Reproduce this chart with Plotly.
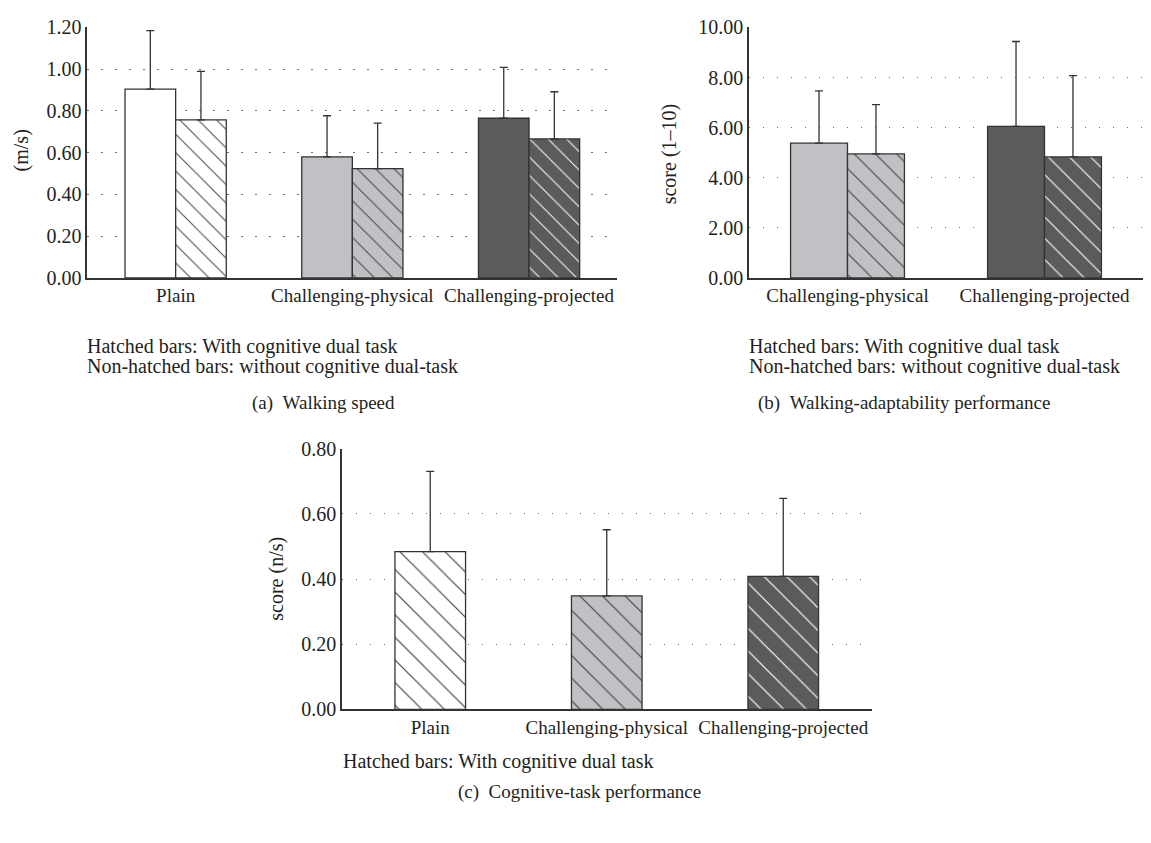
import plotly.graph_objects as go

# ---------------- data ----------------
cats_a = ["Plain", "Challenging-physical", "Challenging-projected"]
speed_single = [0.905, 0.580, 0.765]
speed_single_err = [0.280, 0.197, 0.244]
speed_dual = [0.757, 0.524, 0.666]
speed_dual_err = [0.233, 0.218, 0.226]

cats_b = ["Challenging-physical", "Challenging-projected"]
adapt_single = [5.38, 6.05]
adapt_single_err = [2.09, 3.39]
adapt_dual = [4.95, 4.83]
adapt_dual_err = [1.97, 3.25]

cats_c = ["Plain", "Challenging-physical", "Challenging-projected"]
cog_dual = [0.484, 0.348, 0.408]
cog_dual_err = [0.246, 0.203, 0.239]

ticks_a = [0.0, 0.2, 0.4, 0.6, 0.8, 1.0, 1.2]
ticks_b = [0.0, 2.0, 4.0, 6.0, 8.0, 10.0]
ticks_c = [0.0, 0.2, 0.4, 0.6, 0.8]

# ---------------- styles ----------------
WHITE, LIGHT, DARK = "#ffffff", "#c0c1c4", "#5b5b5d"
cols_a = [WHITE, LIGHT, DARK]
cols_b = [LIGHT, DARK]
cols_c = [WHITE, LIGHT, DARK]
LINE = "#333333"
TXT = "#231f20"
FONT = "Liberation Serif"
W, H = 1151, 843
PAD = 8                      # default body margin of the html page
FW, FH = W - 2 * PAD, H - 2 * PAD


def bar(x, y, err, colors, hatched, xa, ya, width, offset, psize):
    marker = dict(color=colors, line=dict(color=LINE, width=1.3))
    if hatched:
        marker["pattern"] = dict(shape="\\", fillmode="overlay", fgcolor="#2b2b2b",
                                 fgopacity=1, size=psize, solidity=0.075)
    return go.Bar(x=x, y=y, width=width, offset=offset, marker=marker,
                  xaxis=xa, yaxis=ya, showlegend=False, hoverinfo="skip",
                  error_y=dict(type="data", array=err, arrayminus=[0] * len(err),
                               symmetric=False, color=LINE, thickness=1.3, width=4))


fig = go.Figure()
wa = 0.2865
fig.add_trace(bar(cats_a, speed_single, speed_single_err, cols_a, False, "x", "y", wa, -wa, 13))
fig.add_trace(bar(cats_a, speed_dual, speed_dual_err, cols_a, True, "x", "y", wa, 0, 13))
wb = 0.289
fig.add_trace(bar(cats_b, adapt_single, adapt_single_err, cols_b, False, "x2", "y2", wb, -wb, 15))
fig.add_trace(bar(cats_b, adapt_dual, adapt_dual_err, cols_b, True, "x2", "y2", wb, 0, 15))
wc = 0.40
fig.add_trace(bar(cats_c, cog_dual, cog_dual_err, cols_c, True, "x3", "y3", wc, -wc / 2, 16))


def px_x(v):
    return min(max((v - PAD) / FW, 0), 1)


def px_y(v):
    return min(max(1 - (v - PAD) / FH, 0), 1)


xcommon = dict(type="category", showline=True, linecolor=LINE, linewidth=1.5,
               showgrid=False, ticks="", tickangle=0,
               tickfont=dict(family=FONT, size=19, color=TXT), fixedrange=True)
ycommon = dict(showline=True, linecolor=LINE, linewidth=1.5, showgrid=True,
               gridcolor="#6d6d6d", gridwidth=1.4, griddash="1.4px,12.6px",
               zeroline=False, ticks="", tickformat=".2f",
               tickfont=dict(family=FONT, size=20, color=TXT), fixedrange=True)

fig.update_layout(
    width=FW, height=FH,
    margin=dict(l=0, r=0, t=0, b=0),
    paper_bgcolor="white", plot_bgcolor="white",
    barmode="overlay",
    font=dict(family=FONT, color=TXT),
    xaxis=dict(xcommon, domain=[px_x(87.3), px_x(617.4)], range=[-0.5, 2.5], anchor="y"),
    yaxis=dict(ycommon, domain=[px_y(274), px_y(16.7)], range=[0, 1.2], tickvals=ticks_a, anchor="x"),
    xaxis2=dict(xcommon, domain=[px_x(749), px_x(1143)], range=[-0.5, 1.5], anchor="y2"),
    yaxis2=dict(ycommon, domain=[px_y(274), px_y(16.7)], range=[0, 10], tickvals=ticks_b, anchor="x2"),
    xaxis3=dict(xcommon, domain=[px_x(342), px_x(871.5)], range=[-0.5, 2.5], anchor="y3"),
    yaxis3=dict(ycommon, domain=[px_y(717.3), px_y(449.3)], range=[0, 0.8], tickvals=ticks_c, anchor="x3"),
)

ann = []


def text(s, x, y, xanchor="left", angle=0, size=20):
    ann.append(dict(text=s, x=px_x(x), y=px_y(y), xref="paper", yref="paper",
                    xanchor=xanchor, yanchor="middle", showarrow=False, textangle=angle,
                    borderpad=0, font=dict(family=FONT, size=size, color=TXT)))


# axis titles
text("(m/s)", 21, 143, "center", -90)
text("score (1\u201310)", 669, 147, "center", -90)
text("score (n/s)", 277, 583, "center", -90)

# notes
text("Hatched bars: With cognitive dual task", 86, 344)
text("Non-hatched bars: without cognitive dual-task", 86, 365)
text("Hatched bars: With cognitive dual task", 748, 344)
text("Non-hatched bars: without cognitive dual-task", 748, 365)
text("Hatched bars: With cognitive dual task", 341.5, 771)

# captions
text("(a)\u00a0\u00a0Walking speed", 323, 402, "center", size=19)
text("(b)\u00a0\u00a0Walking-adaptability performance", 903.7, 402, "center", size=19)
text("(c)\u00a0\u00a0Cognitive-task performance", 579, 802, "center", size=19)

fig.update_layout(annotations=ann)
fig.write_html("out.html")
